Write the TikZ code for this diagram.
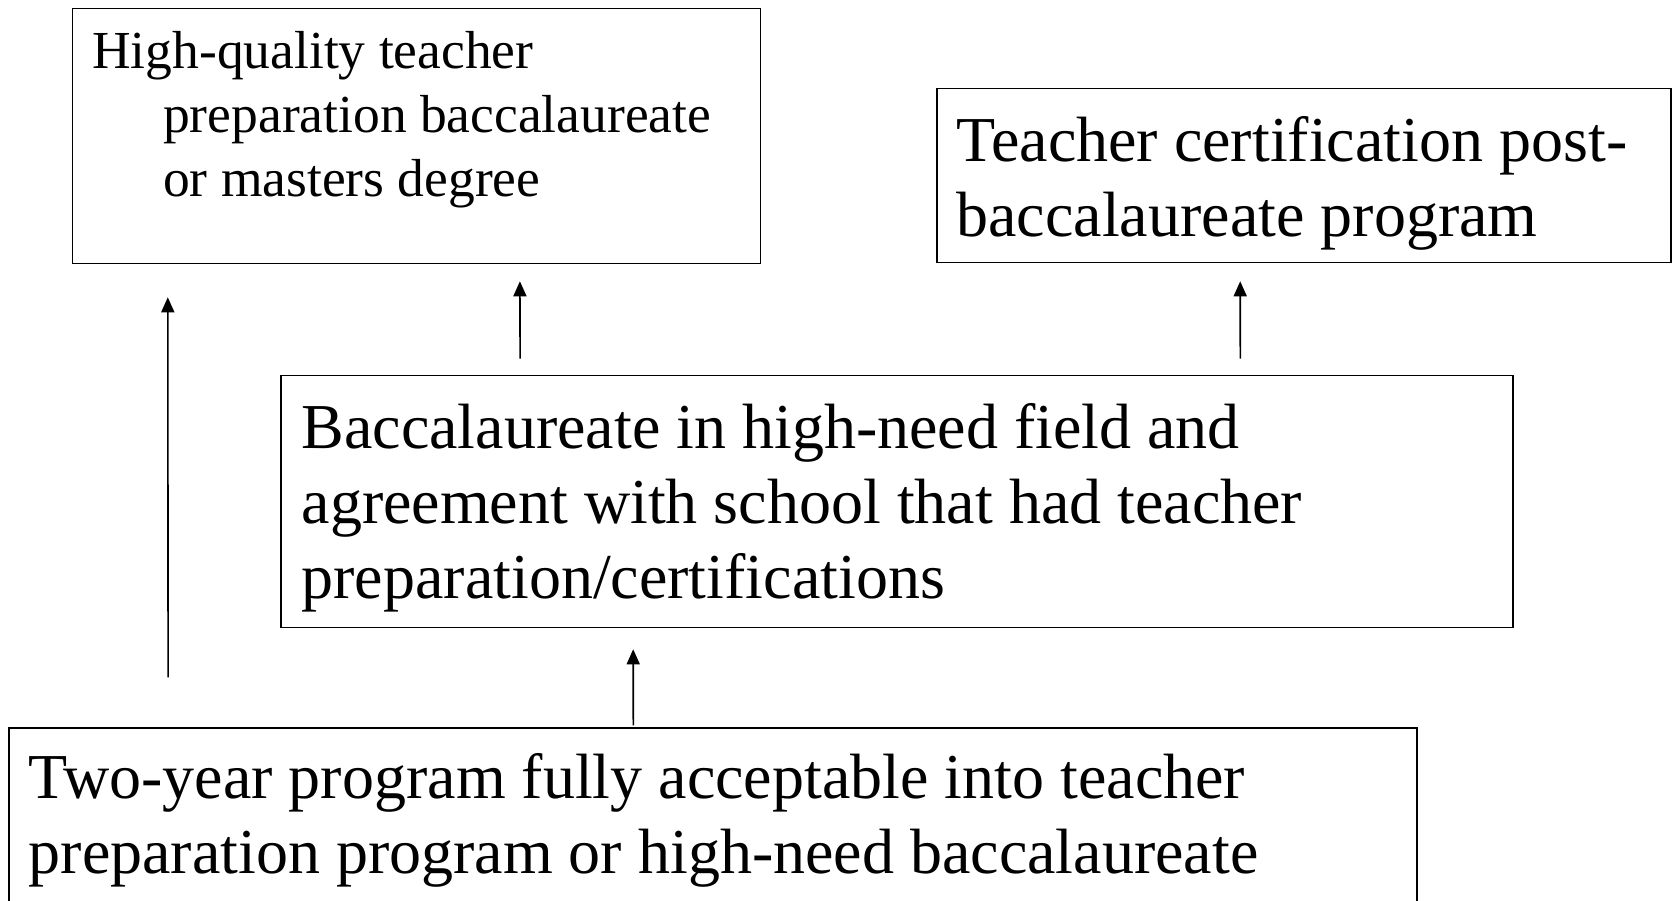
\documentclass[tikz,border=0pt]{standalone}
\usepackage{fontspec}
\setmainfont{Liberation Serif}
\usetikzlibrary{arrows.meta}
\tikzset{
  box/.style={draw, line width=1.6pt, inner sep=0pt},
  txt/.style={anchor=base west, inner sep=0pt, font=\fontsize{64}{75}\selectfont,
    execute at begin node={\spaceskip=0.25em\relax\xspaceskip=0.25em\relax}},
  smalltxt/.style={txt, font=\fontsize{53.5}{64}\selectfont},
  arr/.style={-{Triangle[length=15pt,width=13pt]}, line width=1.6pt}
}
\begin{document}
\begin{tikzpicture}[x=1pt,y=1pt]
      \useasboundingbox (0,0) rectangle (1673,901);
      \clip (0,0) rectangle (1673,901);
      \draw
        (416.6,765) node[box, minimum width=688pt, minimum height=255pt] (hq){}
        (1303.9,725.5) node[box, minimum width=734pt, minimum height=174pt] (cert){}
        (896.8,399.5) node[box, minimum width=1232pt, minimum height=252pt] (bacc){}
        (712.8,56.2) node[box, minimum width=1408pt, minimum height=233pt] (twoyear){};
      \node[smalltxt, text width=650pt] (hqtext) at ([xshift=20.2pt,yshift=-60.9pt]hq.north west)
        {High-quality teacher\\\hspace*{71pt}preparation baccalaureate\\\hspace*{71pt}or masters degree};
      \node[txt, text width=700pt] (certtext) at ([xshift=20.2pt,yshift=-73.4pt]cert.north west)
        {Teacher certification post-\\baccalaureate program};
      \node[txt, text width=1200pt] (bacctext) at ([xshift=21.4pt,yshift=-73.4pt]bacc.north west)
        {Baccalaureate in high-need field and\\agreement with school that had teacher\\preparation/certifications};
      \node[txt, text width=1380pt] (twoyeartext) at ([xshift=20.5pt,yshift=-71.3pt]twoyear.north west)
        {Two-year program fully acceptable into teacher\\preparation program or high-need baccalaureate};
      \begin{scope}[arr]
        \draw ([xshift=160.1pt,yshift=50pt]twoyear.north west) to ([xshift=96pt,yshift=-33pt]hq.south west);
        \draw ([xshift=240.1pt,yshift=16pt]bacc.north west) to ([xshift=448.1pt,yshift=-17pt]hq.south west);
        \draw ([xshift=960.3pt,yshift=16pt]bacc.north west) to ([xshift=304.1pt,yshift=-18pt]cert.south west);
        \draw ([xshift=625.3pt,yshift=2pt]twoyear.north west) to ([xshift=353.2pt,yshift=-21pt]bacc.south west);
      \end{scope}
    \end{tikzpicture}
\end{document}
